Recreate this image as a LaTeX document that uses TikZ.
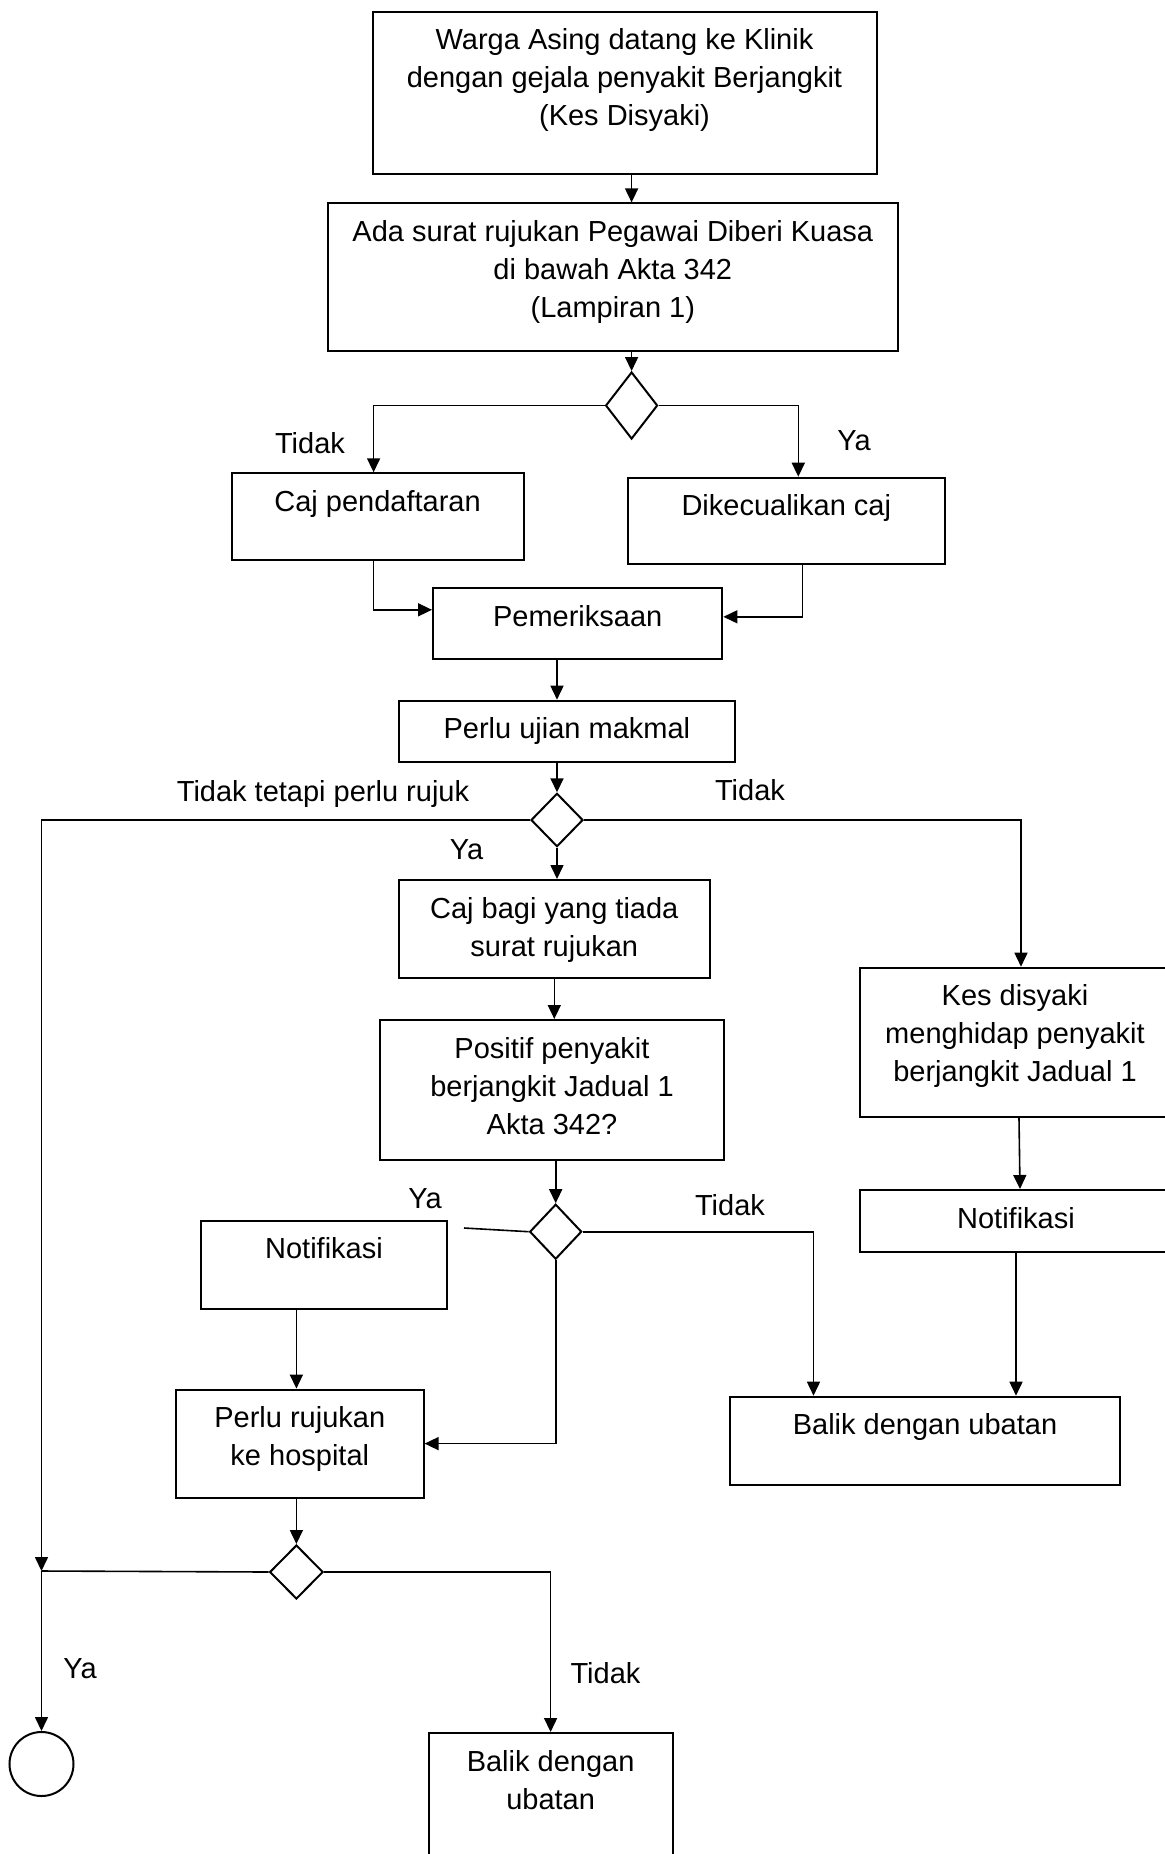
\documentclass[tikz,border=0pt]{standalone}
\usepackage{fontspec}
\setmainfont{Liberation Sans}
\usetikzlibrary{shapes.geometric,arrows.meta}

\tikzset{
  box/.style 2 args={draw, line width=1pt, inner sep=0pt,
    execute at begin node={\begin{minipage}[c][#2][t]{#1}\centering\rule{0pt}{19pt}},
    execute at end node={\end{minipage}}},
  decision/.style 2 args={draw, diamond, line width=1pt, inner sep=0pt,
    minimum width=#1, minimum height=#2},
  arr/.style={-{Triangle[length=7pt,width=6.5pt]}, line width=0.8pt},
  line/.style={line width=0.8pt},
  lbl/.style={inner sep=0pt, text depth=0pt},
}

\begin{document}
\begin{tikzpicture}[x=0.5pt, y=-0.5pt, font=\fontsize{14.5}{19}\selectfont]
\useasboundingbox (0,0) rectangle (1165,1854);

%boxes
\node[box={252pt}{81pt}] (warga) at (624.5,92.9) {Warga Asing datang ke Klinik\\dengan gejala penyakit Berjangkit\\(Kes Disyaki)};
\node[box={285pt}{74pt}] (surat) at (612.8,277.4) {Ada surat rujukan Pegawai Diberi Kuasa\\di bawah Akta 342\\(Lampiran 1)};
\node[box={146pt}{43.4pt}] (daftar) at (377.6,516.7) {Caj pendaftaran};
\node[box={158.7pt}{43.2pt}] (kecuali) at (786.3,520.9) {Dikecualikan caj};
\node[box={144.7pt}{35.5pt}] (periksa) at (577.7,623.8) {Pemeriksaan};
\node[box={167.9pt}{30.5pt}] (makmal) at (566.9,731.2) {Perlu ujian makmal};
\node[box={155.3pt}{48.9pt}] (cajbagi) at (554.3,928.9) {Caj bagi yang tiada\\surat rujukan};
\node[box={172.4pt}{70pt}] (positif) at (552,1090) {Positif penyakit\\berjangkit Jadual 1\\Akta 342?};
\node[box={155pt}{74.5pt}] (kes) at (1015,1042.2) {Kes disyaki\\menghidap penyakit\\berjangkit Jadual 1};
\node[box={156pt}{31pt}] (notifkanan) at (1016,1221) {Notifikasi};
\node[box={123.4pt}{44.1pt}] (notifkiri) at (324,1264.9) {Notifikasi};
\node[box={123.8pt}{54pt}] (rujukan) at (299.8,1443.6) {Perlu rujukan\\ke hospital};
\node[box={195.4pt}{44.2pt}] (balikkanan) at (925,1440.9) {Balik dengan ubatan};
\node[box={121.9pt}{70pt}] (balikbawah) at (550.6,1803) {Balik dengan\\ubatan};

%decisions
\node[decision={26pt}{33.5pt}] (d1) at (631.6,405.5) {};
\node[decision={26pt}{26.7pt}] (d2) at (557,820) {};
\node[decision={26pt}{27.5pt}] (d3) at (555.7,1231.7) {};
\node[decision={26.7pt}{27pt}] (d4) at (296.4,1572) {};
\node[draw, circle, line width=1pt, minimum size=32pt, inner sep=0pt] (akhir) at (41.5,1764) {};

\coordinate (simpang) at (41.5,1571);
\coordinate (hujung) at (464,1228);

%arrows
\draw[arr] (warga.south -| d1) -- (surat.north -| d1);
\draw[arr] (surat.south -| d1) -- (d1.north);
\draw[arr] (d1.west) -| ([xshift=-2pt]daftar.north);
\draw[arr] (d1.east) -| ([xshift=6pt]kecuali.north);
\draw[arr] ([xshift=-2pt]daftar.south) |- ([yshift=7pt]periksa.west);
\draw[arr] ([xshift=8pt]kecuali.south) |- ([yshift=3.5pt]periksa.east);
\draw[arr] (periksa.south -| d2) -- (makmal.north -| d2);
\draw[arr] (makmal.south -| d2) -- (d2.north);
\draw[arr] (d2.west) -| (simpang);
\draw[arr] (simpang) -- (akhir.north);
\draw[line] (d4.west) -- (simpang);
\draw[arr] (d2.east) -| ([xshift=3pt]kes.north);
\draw[arr] (d2.south) -- (d2.south |- cajbagi.north);
\draw[arr] (cajbagi.south) -- (cajbagi.south |- positif.north);
\draw[arr] (positif.south -| d3) -- (d3.north);
\draw[line] (hujung) -- (d3.west);
\draw[arr] (d3.east) -| ([xshift=-55.75pt]balikkanan.north);
\draw[arr] (d3.south) |- (rujukan.east);
\draw[arr] (notifkiri.south -| d4) -- (rujukan.north -| d4);
\draw[arr] (rujukan.south -| d4) -- (d4.north);
\draw[arr] (d4.east) -| (balikbawah.north);
\draw[arr] ([xshift=2pt]kes.south) -- ([xshift=2pt]notifkanan.north);
\draw[arr] (notifkanan.south) -- (notifkanan.south |- balikkanan.north);

%labels
\foreach \nama/\x/\y/\teks in {tidaka/310/443/Tidak, yaa/854/441/Ya,
  tidakb/323/791/Tidak tetapi perlu rujuk, tidakc/750/790/Tidak, yab/466.6/850/Ya,
  yac/425/1199/Ya, tidakd/730/1205/Tidak, yad/80/1669/Ya, tidake/605.5/1673/Tidak}
\node[lbl] (\nama) at (\x,\y) {\teks};

\end{tikzpicture}
\end{document}
